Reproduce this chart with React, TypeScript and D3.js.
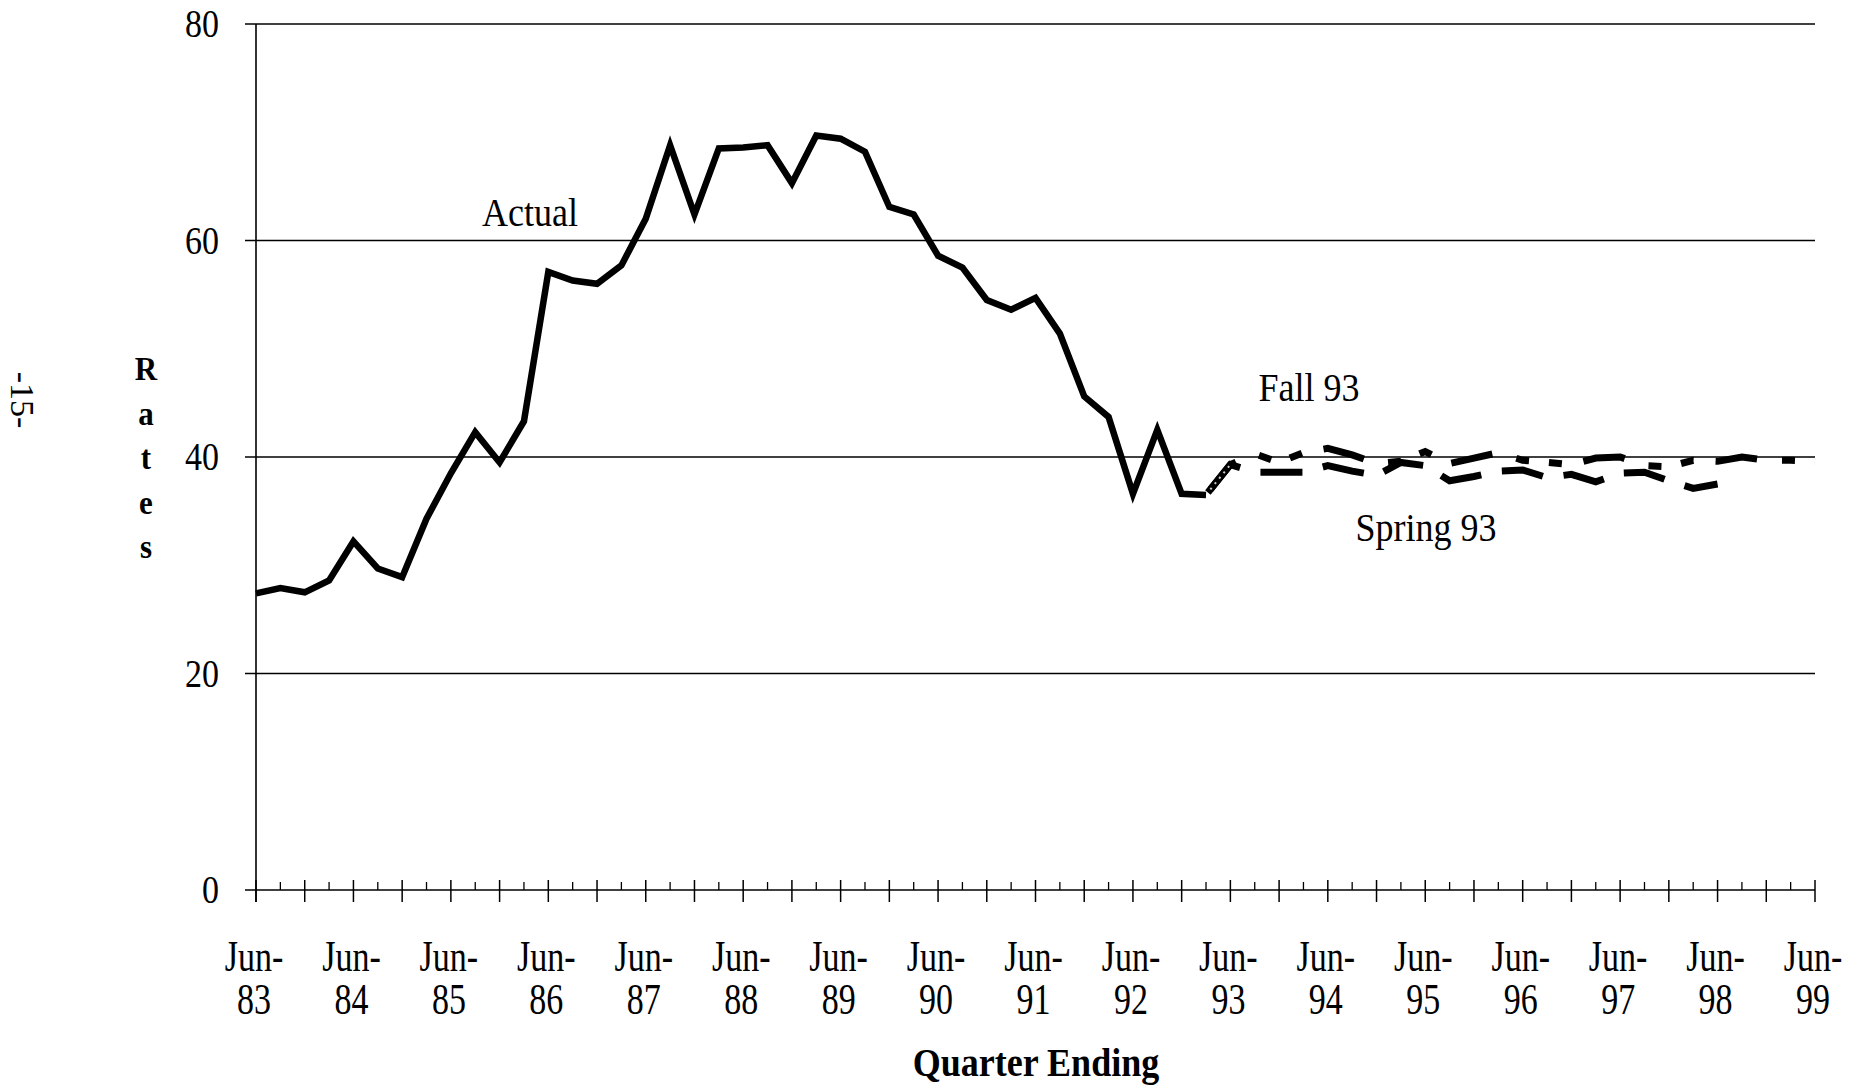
import React from "react";
import * as d3 from "d3";

// Quarterly rates, first point = quarter ending Jun-83
const actualRates = [
  27.4, 27.9, 27.5, 28.6, 32.2, 29.7, 28.9, 34.3, 38.5, 42.3,
  39.5, 43.3, 57.1, 56.3, 56.0, 57.7, 62.0, 68.8, 62.4, 68.5,
  68.6, 68.8, 65.3, 69.7, 69.4, 68.2, 63.1, 62.4, 58.6, 57.5,
  54.5, 53.6, 54.7, 51.4, 45.6, 43.7, 36.6, 42.5, 36.6, 36.5,
];
// forecasts start at quarter index 39 (Mar-93)
const forecastStart = 39;
const fall93Rates = [
  36.5, 39.3, 40.3, 39.5, 40.4, 40.8, 40.2, 39.4, 39.6, 40.5,
  39.4, 39.9, 40.4, 39.7, 39.5, 39.3, 39.9, 40.0, 39.2, 39.1,
  39.7, 39.6, 40.0, 39.7, 39.7, 39.6,
];
const spring93Rates = [
  36.5, 39.3, 38.6, 38.6, 38.6, 39.2, 38.7, 38.3, 39.5, 39.2,
  37.8, 38.2, 38.7, 38.8, 38.1, 38.4, 37.7, 38.5, 38.6, 37.8,
  37.1, 37.5,
];
const tickMonth = "Jun-";
const tickYears = ["83", "84", "85", "86", "87", "88", "89", "90", "91", "92", "93", "94", "95", "96", "97", "98", "99"];
const yTicks = [0, 20, 40, 60, 80];
const quarterCount = 64;
const yTitleLetters = ["R", "a", "t", "e", "s"];

const SERIF = "'Liberation Serif', 'Times New Roman', serif";

function T(props: {
  x: number; y: number; sx?: number; sy?: number; size: number; bold?: boolean;
  anchor?: string; rotate?: number; children: React.ReactNode;
}) {
  const { x, y, sx = 1, sy = 1, size, bold, anchor = "middle", rotate = 0, children } = props;
  return (
    <text
      transform={`translate(${x},${y}) rotate(${rotate}) scale(${sx},${sy})`}
      fontFamily={SERIF}
      fontSize={size}
      fontWeight={bold ? "bold" : "normal"}
      textAnchor={anchor}
      fill="#000"
    >
      {children}
    </text>
  );
}

export default function App() {
  const x = d3.scaleLinear().domain([0, quarterCount]).range([256, 1815]);
  const y = d3.scaleLinear().domain([0, 80]).range([890, 24]);
  const line = d3
    .line<number>()
    .x((_, i) => x(i))
    .y((d) => y(d));
  const lineFrom = (start: number) =>
    d3
      .line<number>()
      .x((_, i) => x(start + i))
      .y((d) => y(d));

  const quarters = d3.range(0, quarterCount + 1);
  const gridLeft = 245;
  const gridRight = 1815;

  return (
    <svg
      width={1849}
      height={1085}
      style={{ position: "absolute", left: 0, top: 0, display: "block", background: "#fff" }}
    >
      <rect x={0} y={0} width={1849} height={1085} fill="#fff" />

      {/* horizontal gridlines */}
      {yTicks.map((t) => (
        <line key={"g" + t} x1={gridLeft} x2={gridRight} y1={y(t)} y2={y(t)} stroke="#000" strokeWidth={1.4} />
      ))}
      {/* y axis */}
      <line x1={x(0)} x2={x(0)} y1={y(80)} y2={y(0) + 12} stroke="#000" strokeWidth={1.6} />

      {/* x axis ticks */}
      {quarters.map((q) =>
        q % 2 === 0 ? (
          <line key={"t" + q} x1={x(q)} x2={x(q)} y1={y(0) - 10} y2={y(0) + 12} stroke="#000" strokeWidth={1.5} />
        ) : (
          <line key={"t" + q} x1={x(q)} x2={x(q)} y1={y(0) - 8} y2={y(0)} stroke="#000" strokeWidth={1.3} />
        )
      )}

      {/* y tick labels */}
      {yTicks.map((t) => (
        <T key={"yl" + t} x={219} y={y(t) + 13} size={34} sy={1.15} anchor="end">
          {String(t)}
        </T>
      ))}

      {/* x tick labels */}
      {tickYears.map((yr, i) => (
        <g key={"xl" + yr}>
          <T x={x(i * 4) - 2} y={971} size={34} sy={1.3}>
            {tickMonth}
          </T>
          <T x={x(i * 4) - 2} y={1014} size={34} sy={1.3}>
            {yr}
          </T>
        </g>
      ))}

      {/* series */}
      <path
        d={lineFrom(forecastStart)(spring93Rates) || ""}
        fill="none"
        stroke="#000"
        strokeWidth={7}
        strokeDasharray="42 21"
        strokeDashoffset={55.9}
      />
      <path
        d={lineFrom(forecastStart)(fall93Rates) || ""}
        fill="none"
        stroke="#000"
        strokeWidth={7}
        strokeDasharray="42 25 13 20 13 22"
        strokeDashoffset={132}
      />
      <path
        d={lineFrom(forecastStart)(fall93Rates.slice(0, 2)) || ""}
        fill="none"
        stroke="#fff"
        strokeWidth={2}
        strokeDasharray="2 5"
        opacity={0.8}
      />
      <path
        d={line(actualRates) || ""}
        fill="none"
        stroke="#000"
        strokeWidth={6.5}
        strokeLinejoin="miter"
      />

      {/* series labels */}
      <T x={530} y={226} size={36} sy={1.1}>Actual</T>
      <T x={1309} y={401} size={36} sy={1.1}>Fall 93</T>
      <T x={1426} y={541} size={36} sy={1.1}>Spring 93</T>

      {/* axis titles */}
      <T x={1036} y={1076} size={36} sy={1.13} bold>
        Quarter Ending
      </T>
      {yTitleLetters.map((c, i) => (
        <T key={"r" + i} x={146} y={380 + i * 44.5} size={31} sy={1.1} bold>
          {c}
        </T>
      ))}

      {/* page number */}
      <T x={11} y={400} size={34} rotate={90}>-15-</T>
    </svg>
  );
}
